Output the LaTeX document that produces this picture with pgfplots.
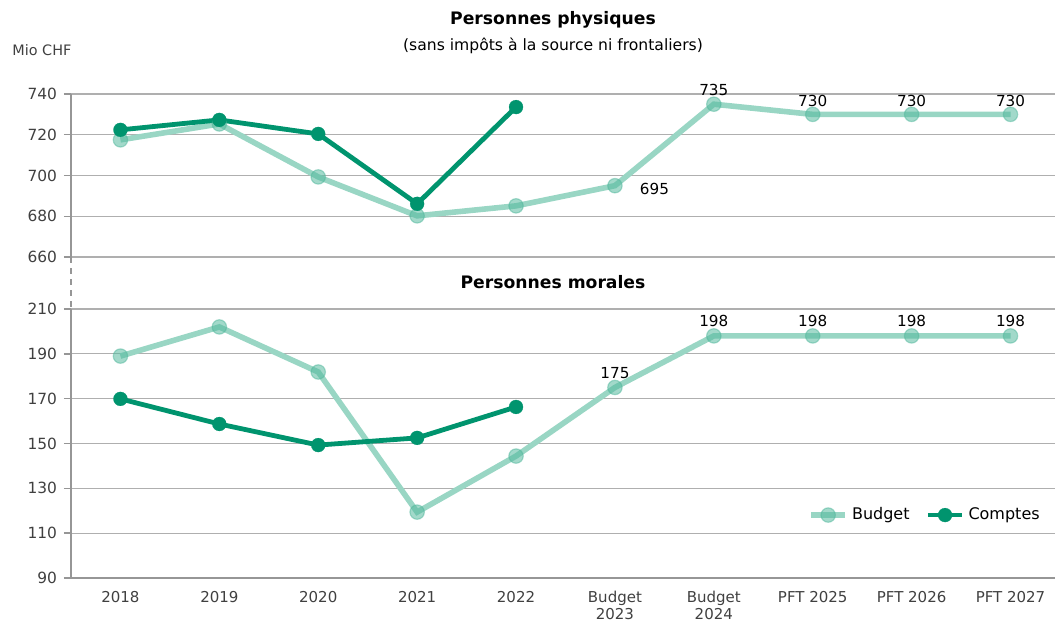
\documentclass[border=0pt]{standalone}
\usepackage{pgfplots}
\pgfplotsset{compat=1.18}
\usepackage{fontspec}
\setmainfont{DejaVu Sans}
\definecolor{budget}{RGB}{153,214,196}
\definecolor{budgetmk}{RGB}{85,185,158}
\definecolor{comptes}{RGB}{0,148,110}
\definecolor{gridc}{RGB}{175,175,175}
\definecolor{axc}{RGB}{150,150,150}
\definecolor{txt}{RGB}{64,64,64}
\pgfplotsset{
  common/.style={
    scale only axis, width=492pt,
    xmin=-0.5, xmax=9.45,
    axis line style={axc, line width=0.8pt},
    ymajorgrids, grid style={gridc, line width=0.6pt},
    tick style={axc, line width=0.7pt},
    tick align=outside,
    major tick length=3.5pt,
    yticklabel style={font=\fontsize{7.7}{9}\selectfont, text=txt},
    /pgf/number format/assume math mode=true,
    clip=false,
  },
  bud/.style={budget, line width=2.8pt, mark=*, mark size=3.6pt,
    mark options={fill=budgetmk, fill opacity=0.55, draw=budgetmk, draw opacity=0.5, line width=0.6pt}},
  cpt/.style={comptes, line width=2.4pt, mark=*, mark size=3.5pt,
    mark options={fill=comptes, draw=comptes, line width=0.1pt}},
  lab/.style={draw=none, mark=none, nodes near coords, point meta=explicit symbolic,
    every node near coord/.append style={font=\fontsize{7.6}{9}\selectfont, text=black}},
}
\begin{document}
\begin{tikzpicture}
\useasboundingbox (-35.5pt,0pt) rectangle (492pt,-310.5pt);
% top panel
\begin{axis}[common, name=top,
  at={(0pt,-128.5pt)}, anchor=south west, height=81.5pt,
  ymin=660, ymax=740, ytick={660,680,...,740},
  axis x line=none, axis y line*=left,
  xtick=\empty,
]
\addplot[bud] coordinates {(0,717.5) (1,725.3) (2,699.3) (3,680.2) (4,685.1) (5,695) (6,735) (7,730) (8,730) (9,730)};
\addplot[cpt] coordinates {(0,722.4) (1,727.3) (2,720.4) (3,686.1) (4,733.6)};
\addplot[lab, every node near coord/.append style={anchor=west, xshift=9pt, yshift=-1.5pt}] coordinates {(5,695)[695]};
\addplot[lab, every node near coord/.append style={anchor=south, yshift=0.5pt}] coordinates {(6,735)[735] (7,730)[730] (8,730)[730] (9,730)[730]};
\end{axis}
% bottom panel
\begin{axis}[common, name=bot,
  at={(0pt,-289pt)}, anchor=south west, height=134.5pt,
  ymin=90, ymax=210, ytick={90,110,...,210},
  axis x line*=bottom, axis y line*=left,
  xtick={0,...,9},
  xticklabels={2018,2019,2020,2021,2022,{Budget\\2023},{Budget\\2024},PFT 2025,PFT 2026,PFT 2027},
  xticklabel style={font=\fontsize{7.5}{7.1}\selectfont, text=txt, align=center, anchor=north, inner sep=1pt, yshift=-2pt},
  x tick style={draw=none},
  minor xtick={-0.5,0.5,...,8.5},
  minor tick length=3pt,
  minor tick style={axc, line width=0.7pt},
  legend style={at={(0.995,0.234)}, anchor=east, draw=none, fill=none,
    font=\fontsize{8}{9}\selectfont, legend columns=2,
    /tikz/every even column/.append style={column sep=6pt}},
  legend cell align=left,
]
\addplot[bud] coordinates {(0,189) (1,202) (2,181.9) (3,119.4) (4,144.4) (5,175) (6,198) (7,198) (8,198) (9,198)};
\addlegendentry{Budget}
\addplot[cpt] coordinates {(0,169.9) (1,158.7) (2,149.3) (3,152.5) (4,166.3)};
\addlegendentry{Comptes}
\addplot[lab, forget plot, every node near coord/.append style={anchor=south, yshift=1pt}] coordinates {(5,175)[175] (6,198)[198] (7,198)[198] (8,198)[198] (9,198)[198]};
\end{axis}
\draw[axc, line width=0.8pt, dash pattern=on 3pt off 2.5pt] (top.south west) -- (bot.north west);
\node[font=\bfseries\fontsize{8.6}{10}\selectfont] at (241pt,-10pt) {Personnes physiques};
\node[font=\fontsize{7.8}{9}\selectfont] at (241pt,-23pt) {(sans impôts à la source ni frontaliers)};
\node[font=\fontsize{7.2}{8}\selectfont, text=txt, anchor=west, inner sep=0pt] at (-29.5pt,-25pt) {Mio CHF};
\node[font=\bfseries\fontsize{8.6}{10}\selectfont] at (241pt,-141pt) {Personnes morales};
\end{tikzpicture}
\end{document}
